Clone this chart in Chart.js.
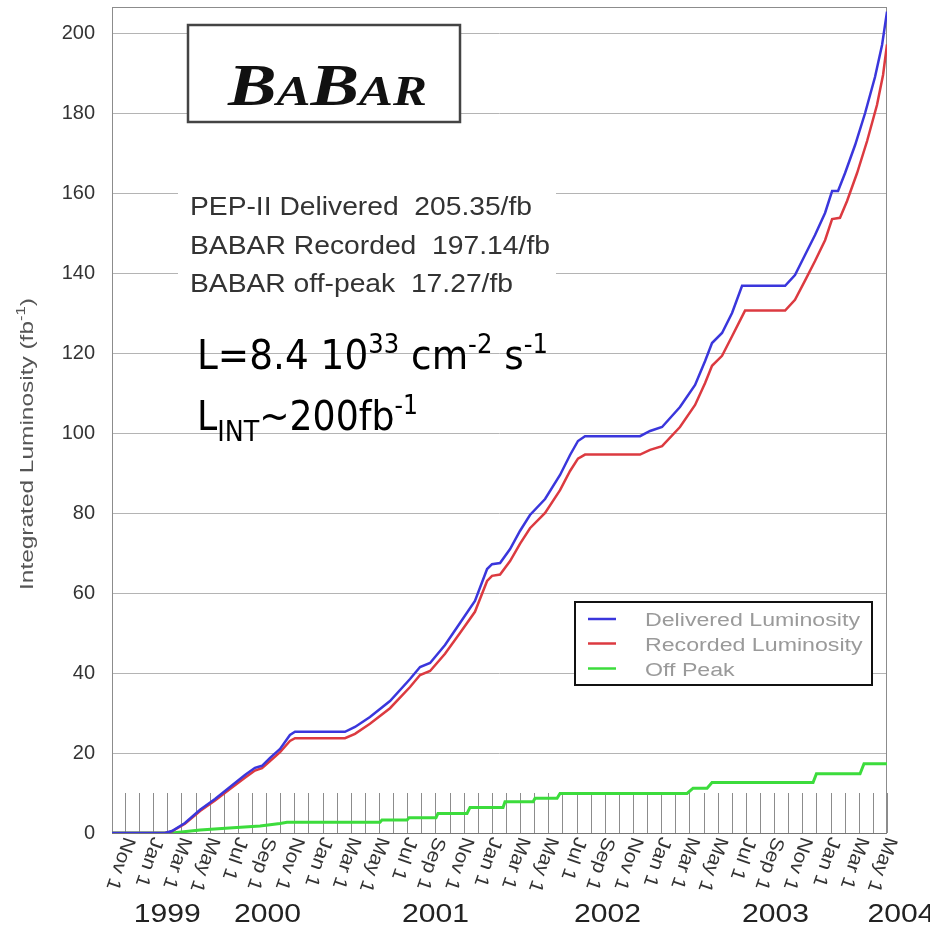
<!DOCTYPE html>
<html>
<head>
<meta charset="utf-8">
<script src="https://cdn.jsdelivr.net/npm/chart.js@4.4.0/dist/chart.umd.min.js"></script>
<style>
html,body{margin:0;padding:0;background:#fff;}
#wrap{width:930px;height:931px;position:relative;}
canvas{display:block;}
</style>
</head>
<body>
<div id="wrap"><canvas id="c" width="930" height="931"></canvas></div>
<script>
// ---------- data (months counted from the first "Nov 1" tick) ----------
const monthTickLabels = ["Nov 1","Jan 1","Mar 1","May 1","Jul 1","Sep 1",
  "Nov 1","Jan 1","Mar 1","May 1","Jul 1","Sep 1",
  "Nov 1","Jan 1","Mar 1","May 1","Jul 1","Sep 1",
  "Nov 1","Jan 1","Mar 1","May 1","Jul 1","Sep 1",
  "Nov 1","Jan 1","Mar 1","May 1"];
const yearLabels = ["1999","2000","2001","2002","2003","2004"];
const yearPositions = [3.0, 10.1, 22.0, 34.2, 46.1, 55.0];

const deliveredMonths = [-0.92,2.83,3.33,4.25,5.32,6.38,7.44,8.5,9.21,9.71,10.28,10.99,11.69,12.05,15.59,16.3,17.36,18.78,20.2,20.91,21.62,22.68,23.74,24.8,25.66,26.01,26.58,27.29,27.99,28.7,29.77,30.83,31.54,32.1,32.6,36.5,37.21,38.06,39.33,40.4,41.11,41.6,42.31,43.02,43.73,46.78,47.48,48.19,48.9,49.61,50.11,50.53,51.03,51.74,52.45,53.15,53.65,54];
const deliveredValues = [0,0,0.5,2.5,5.8,8.5,11.5,14.5,16.3,16.8,18.8,21,24.5,25.3,25.3,26.5,29,33,38.5,41.5,42.5,47,52.5,58,66,67.2,67.5,71,75.5,79.5,83.5,89.5,94.5,98,99.2,99.2,100.5,101.5,106.5,112,118,122.5,125,130,136.8,136.8,139.5,144.5,149.5,155,160.5,160.5,165,172,180,189,197,205.35];

const recordedMonths = [-0.92,2.83,3.33,4.25,5.32,6.38,7.44,8.5,9.21,9.71,10.28,10.99,11.69,12.05,15.59,16.3,17.36,18.78,20.2,20.91,21.62,22.68,23.74,24.8,25.66,26.01,26.58,27.29,27.99,28.7,29.77,30.83,31.54,32.1,32.6,36.5,37.21,38.06,39.33,40.4,41.11,41.6,42.31,43.02,43.94,46.78,47.48,48.19,48.9,49.61,50.11,50.67,51.17,51.88,52.59,53.29,53.72,54];
const recordedValues = [0,0,0.4,2.3,5.5,8.1,11,13.8,15.6,16.2,18,20.2,23,23.7,23.7,24.8,27.3,31.2,36.5,39.5,40.5,44.8,50,55.3,63,64.3,64.6,68,72.3,76.2,80,85.7,90.5,93.6,94.6,94.6,95.8,96.7,101.5,107,112.5,116.8,119.3,124.2,130.6,130.6,133.3,138.1,143,148.2,153.5,153.8,158,165,173,182,189.5,197.14];

const offPeakMonths = [-0.92,3.33,5.32,7.65,9.57,10.99,11.48,18.07,18.21,19.99,20.13,22.04,22.18,24.24,24.45,26.79,26.93,28.92,29.06,30.62,30.83,39.83,40.26,41.25,41.6,48.76,49.0,52.09,52.37,54];
const offPeakValues = [0,0,0.75,1.3,1.75,2.4,2.7,2.7,3.25,3.25,3.8,3.8,4.9,4.9,6.4,6.4,7.8,7.8,8.7,8.7,9.9,9.9,11.2,11.2,12.6,12.6,14.8,14.8,17.3,17.3];

const seriesNames = ["Delivered Luminosity","Recorded Luminosity","Off Peak"];
const statsLines = ["PEP-II Delivered  205.35/fb","BABAR Recorded  197.14/fb","BABAR off-peak  17.27/fb"];
const yTitle = "Integrated Luminosity (fb";

// ---------- helpers ----------
const zip = (xs, ys) => xs.map((v, i) => ({x: v, y: ys[i]}));
const SANS = '"Liberation Sans", Arial, sans-serif';
const DEG = Math.PI / 180;

function drawRuns(ctx, runs, x, y, opts) {
  opts = opts || {};
  let w = 0;
  for (const r of runs) { ctx.font = r.f; w += ctx.measureText(r.t).width; }
  let sx = opts.sx || 1;
  if (opts.width) sx = opts.width / w;
  ctx.save();
  ctx.translate(x, y);
  if (opts.rot) ctx.rotate(opts.rot);
  ctx.scale(sx, 1);
  let cx = opts.align === 'center' ? -w / 2 : 0;
  ctx.textAlign = 'left';
  ctx.textBaseline = 'alphabetic';
  for (const r of runs) {
    ctx.font = r.f;
    ctx.fillText(r.t, cx, r.dy || 0);
    cx += ctx.measureText(r.t).width;
  }
  ctx.restore();
}

const overlay = {
  id: 'overlay',
  beforeDatasetsDraw(chart) {
    const {ctx, chartArea: a, scales: {x, y}} = chart;
    ctx.save();
    ctx.strokeStyle = '#8c8c8c';
    ctx.lineWidth = 1;
    ctx.strokeRect(a.left + 0.5, a.top + 0.5, a.right - a.left - 1, a.bottom - a.top);
    const y0 = y.getPixelForValue(0), y1 = y.getPixelForValue(10);
    for (let m = 0; m < monthTickLabels.length * 2 - 1; m++) {
      const px = Math.round(x.getPixelForValue(m)) + 0.5;
      ctx.beginPath(); ctx.moveTo(px, y0); ctx.lineTo(px, y1); ctx.stroke();
    }
    ctx.strokeStyle = '#777';
    ctx.beginPath(); ctx.moveTo(a.left, Math.round(y0) + 0.5); ctx.lineTo(a.right, Math.round(y0) + 0.5); ctx.stroke();
    ctx.fillStyle = '#fff';
    ctx.fillRect(178, 178, 378, 124);
    ctx.restore();
  },
  afterDraw(chart) {
    const {ctx, chartArea: a, scales: {x}} = chart;
    ctx.save();
    ctx.fillStyle = '#333';
    monthTickLabels.forEach((lab, j) => {
      const px = x.getPixelForValue(2 * j);
      drawRuns(ctx, [{t: lab, f: '19px ' + SANS}], px - 1, a.bottom + 3, {rot: 109 * DEG, sx: 1.1});
    });
    ctx.fillStyle = '#222';
    ctx.font = '26px ' + SANS;
    const ysx = 67 / ctx.measureText('1999').width;
    yearLabels.forEach((yr, i) => {
      const px = x.getPixelForValue(yearPositions[i]);
      drawRuns(ctx, [{t: yr, f: '26px ' + SANS}], px, 922, {align: 'center', sx: ysx});
    });
    ctx.fillStyle = '#555';
    drawRuns(ctx, [{t: yTitle, f: '19px ' + SANS}, {t: '-1', f: '13px ' + SANS, dy: -8}, {t: ')', f: '19px ' + SANS}],
      33, 444, {rot: -90 * DEG, align: 'center', width: 292});

    ctx.fillStyle = '#fff';
    ctx.fillRect(188, 25, 272, 97);
    ctx.strokeStyle = '#444';
    ctx.lineWidth = 2.5;
    ctx.strokeRect(188, 25, 272, 97);
    ctx.fillStyle = '#111';
    const big = 'italic bold 60px "Liberation Serif", serif';
    const small = 'italic bold 42px "Liberation Serif", serif';
    drawRuns(ctx, [{t: 'B', f: big}, {t: 'A', f: small}, {t: 'B', f: big}, {t: 'A', f: small}, {t: 'R', f: small}],
      228, 105, {width: 199});

    ctx.fillStyle = '#333';
    const statY = [215, 253.5, 292], statW = [342, 360, 323];
    statsLines.forEach((s, i) => drawRuns(ctx, [{t: s, f: '26px ' + SANS}], 190, statY[i], {width: statW[i]}));

    ctx.fillStyle = '#000';
    const LF = '40px "DejaVu Sans", sans-serif', SF = '26px "DejaVu Sans", sans-serif', BF = '28px "DejaVu Sans", sans-serif';
    drawRuns(ctx, [{t: 'L=8.4 10', f: LF}, {t: '33', f: SF, dy: -16}, {t: ' cm', f: LF}, {t: '-2', f: SF, dy: -16},
      {t: ' s', f: LF}, {t: '-1', f: SF, dy: -16}], 197, 369, {width: 351});
    drawRuns(ctx, [{t: 'L', f: LF}, {t: 'INT', f: BF, dy: 11}, {t: '~200fb', f: LF}, {t: '-1', f: SF, dy: -16}],
      197, 430, {width: 221});

    ctx.fillStyle = '#fff';
    ctx.fillRect(575, 602, 297, 83);
    ctx.strokeStyle = '#111';
    ctx.lineWidth = 2;
    ctx.strokeRect(575, 602, 297, 83);
    const rowY = [619, 643.5, 668.5];
    ctx.font = '18px ' + SANS;
    const lsx = 215 / ctx.measureText(seriesNames[0]).width;
    chart.data.datasets.forEach((ds, i) => {
      ctx.strokeStyle = ds.borderColor;
      ctx.lineWidth = 2.5;
      ctx.beginPath(); ctx.moveTo(588, rowY[i]); ctx.lineTo(616, rowY[i]); ctx.stroke();
      ctx.fillStyle = '#9a9a9a';
      drawRuns(ctx, [{t: ds.label, f: '18px ' + SANS}], 645, rowY[i] + 7, {sx: lsx});
    });
    ctx.restore();
  }
};

new Chart(document.getElementById('c'), {
  type: 'line',
  data: {
    datasets: [
      {label: seriesNames[0], data: zip(deliveredMonths, deliveredValues), borderColor: '#3a36dc', borderWidth: 2.5},
      {label: seriesNames[1], data: zip(recordedMonths, recordedValues), borderColor: '#dc3a40', borderWidth: 2.5},
      {label: seriesNames[2], data: zip(offPeakMonths, offPeakValues), borderColor: '#3cdc3c', borderWidth: 3}
    ]
  },
  options: {
    responsive: false,
    animation: false,
    devicePixelRatio: 1,
    layout: {padding: {top: 7, right: 43, left: 0, bottom: 0}},
    elements: {point: {radius: 0}, line: {tension: 0, fill: false}},
    plugins: {legend: {display: false}, tooltip: {enabled: false}},
    scales: {
      x: {
        type: 'linear', min: -0.92, max: 54,
        ticks: {display: false},
        grid: {display: false},
        border: {display: false},
        afterFit(s) { s.height = 98; s.paddingLeft = 0; s.paddingRight = 0; }
      },
      y: {
        min: 0, max: 206.5,
        ticks: {stepSize: 20, includeBounds: false, padding: 17, color: '#333', font: {family: '"Liberation Sans", Arial, sans-serif', size: 20}},
        grid: {color: '#b4b4b4', lineWidth: 1, drawTicks: false},
        border: {display: false},
        afterFit(s) { s.width = 112; s.paddingTop = 0; s.paddingBottom = 0; }
      }
    }
  },
  plugins: [overlay]
});
</script>
</body>
</html>
